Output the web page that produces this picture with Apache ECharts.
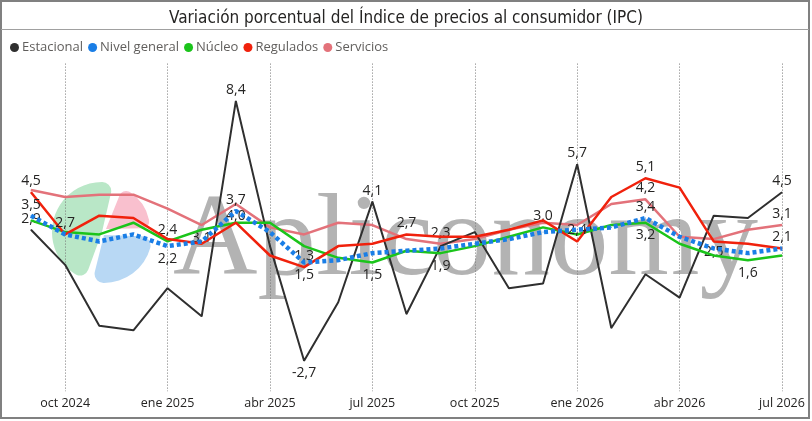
<!DOCTYPE html>
<html>
<head>
<meta charset="utf-8">
<script src="https://cdn.jsdelivr.net/npm/echarts@6/dist/echarts.min.js"></script>
<style>
html,body{margin:0;padding:0;background:#fff;}
#chart{width:812px;height:421px;}
</style>
</head>
<body>
<div id="chart"></div>
<script>
const months = ['sep 2024','oct 2024','nov 2024','dic 2024','ene 2025','feb 2025','mar 2025','abr 2025','may 2025','jun 2025','jul 2025','ago 2025','sep 2025','oct 2025','nov 2025','dic 2025','ene 2026','feb 2026','mar 2026','abr 2026','may 2026','jun 2026','jul 2026'];
const estacional   = [2.9, 1.4, -1.2, -1.4, 0.4, -0.8, 8.4, 2.2, -2.7, -0.2, 4.1, -0.7, 2.2, 2.8, 0.4, 0.6, 5.7, -1.3, 1.0, 0.0, 3.5, 3.4, 4.5];
const nivelGeneral = [3.5, 2.7, 2.4, 2.7, 2.2, 2.4, 3.7, 2.8, 1.5, 1.6, 1.9, 2.0, 2.1, 2.3, 2.5, 2.8, 2.9, 3.0, 3.4, 2.6, 2.1, 1.9, 2.1];
const nucleo       = [3.3, 2.8, 2.7, 3.2, 2.4, 2.9, 3.2, 3.2, 2.2, 1.7, 1.5, 2.0, 1.9, 2.2, 2.6, 3.0, 2.7, 3.1, 3.2, 2.3, 1.8, 1.6, 1.8];
const regulados    = [4.5, 2.7, 3.5, 3.4, 2.5, 2.3, 3.2, 1.8, 1.3, 2.2, 2.3, 2.7, 2.6, 2.6, 2.9, 3.3, 2.4, 4.3, 5.1, 4.7, 2.4, 2.3, 2.1];
const servicios    = [4.6, 4.3, 4.4, 4.4, 3.8, 3.1, 4.0, 3.0, 2.7, 3.2, 3.1, 2.5, 2.3, 2.5, 2.9, 3.2, 3.1, 4.0, 4.2, 2.6, 2.5, 2.9, 3.1];

// which points carry a data label: [series, month index, side]
const labelled = [
  ['Regulados',0,'top'],['Nivel general',0,'top'],['Estacional',0,'top'],
  ['Nivel general',1,'top'],
  ['Núcleo',4,'top'],['Nivel general',4,'bottom'],
  ['Servicios',5,'bottom'],
  ['Nivel general',6,'top'],['Servicios',6,'bottom'],['Estacional',6,'top'],
  ['Regulados',8,'top'],['Nivel general',8,'bottom'],['Estacional',8,'bottom'],
  ['Estacional',10,'top'],['Núcleo',10,'bottom'],
  ['Regulados',11,'top'],
  ['Servicios',12,'top'],['Núcleo',12,'bottom'],
  ['Núcleo',15,'top'],
  ['Regulados',16,'top'],['Estacional',16,'top'],
  ['Regulados',18,'top'],['Servicios',18,'top'],['Nivel general',18,'top'],['Núcleo',18,'bottom'],
  ['Servicios',20,'bottom'],
  ['Núcleo',21,'bottom'],
  ['Estacional',22,'top'],['Servicios',22,'top'],['Regulados',22,'top']
];

const fmt = v => v.toFixed(1).replace('.', ',');
const labelFont = '"Open Sans","Noto Sans",sans-serif';

function buildData(name, values){
  return values.map((v,i)=>{
    const spec = labelled.find(s=>s[0]===name && s[1]===i);
    if(!spec) return v;
    return {value:v, label:{show:true, position:spec[2], distance: spec[2]==='top'?3.5:5,
      formatter: p=>fmt(p.value), color:'#252423', fontSize:14, fontFamily:labelFont}};
  });
}

const defs = [
  {name:'Estacional', data:estacional, color:'#2f2f2f', width:2, type:'solid', z:3},
  {name:'Nivel general', data:nivelGeneral, color:'#1a7ee6', width:4.5, type:[4,3], z:8},
  {name:'Núcleo', data:nucleo, color:'#1bc41b', width:2.5, type:'solid', z:4},
  {name:'Regulados', data:regulados, color:'#f0210c', width:2.5, type:'solid', z:5},
  {name:'Servicios', data:servicios, color:'#e3727a', width:2.5, type:'solid', z:2}
];

const tickFn = (idx) => idx % 3 === 1;

const chart = echarts.init(document.getElementById('chart'), null, {renderer:'canvas'});
chart.setOption({
  animation:false,
  backgroundColor:'#ffffff',
  title:{
    text:'Variación porcentual del Índice de precios al consumidor (IPC)',
    left:'center', top:5,
    textStyle:{fontSize:17, fontWeight:'normal', color:'#252423',
      fontFamily:'"DejaVu Sans Condensed","Liberation Sans Narrow","Roboto Condensed",Roboto,sans-serif'}
  },
  legend:{
    left:10, top:41, icon:'circle', itemWidth:9, itemHeight:9, itemGap:5, padding:0,
    textStyle:{fontSize:13, color:'#605e5c', fontFamily:labelFont, padding:[0,0,0,-2]},
    data: defs.map(d=>d.name)
  },
  grid:{left:31, right:30, top:63.6, bottom:29.8, containLabel:false},
  xAxis:{
    type:'category', data:months, boundaryGap:false,
    axisLine:{show:false}, axisTick:{show:false},
    axisLabel:{interval:tickFn, color:'#252423', fontSize:12.5, margin:6, fontFamily:labelFont},
    splitLine:{show:true, interval:tickFn, lineStyle:{color:'#777', type:[1,2], width:1}}
  },
  yAxis:{type:'value', min:-4, max:10, show:false, splitLine:{show:false}},
  graphic:[
    {type:'sector', z:-10, silent:true, shape:{cx:102, cy:232, r:50, r0:0, startAngle:110*Math.PI/180, endAngle:283*Math.PI/180, cornerRadius:9}, style:{fill:'#b9e7c7'}},
    {type:'sector', z:-10, silent:true, shape:{cx:106, cy:229, r:44, r0:0, startAngle:292*Math.PI/180, endAngle:359*Math.PI/180, cornerRadius:7}, style:{fill:'#f9c0ce'}},
    {type:'sector', z:-10, silent:true, shape:{cx:104, cy:235, r:48, r0:0, startAngle:2*Math.PI/180, endAngle:104*Math.PI/180, cornerRadius:9}, style:{fill:'#b8d8f4'}},
    {type:'text', z:-10, silent:true, style:{text:'Apliconomy', x:173, y:243, fill:'#b3b3b3',
      fontSize:117, fontFamily:'"Liberation Serif","DejaVu Serif",serif', verticalAlign:'middle', align:'left'}},
    {type:'rect', z:100, silent:true, shape:{x:1, y:1, width:808, height:417}, style:{fill:'none', stroke:'#808080', lineWidth:2}},
    {type:'line', z:100, silent:true, shape:{x1:1, y1:29.5, x2:809, y2:29.5}, style:{stroke:'#a0a0a0', lineWidth:1}}
  ],
  series: defs.map(d=>({
    name:d.name, type:'line', data:buildData(d.name, d.data), z:d.z,
    symbol:'circle', symbolSize:1, showSymbol:true, silent:true,
    itemStyle:{color:d.color},
    lineStyle:{color:d.color, width:d.width, type:d.type},
    emphasis:{disabled:true},
    labelLayout:{hideOverlap:false}
  }))
});
</script>
</body>
</html>
